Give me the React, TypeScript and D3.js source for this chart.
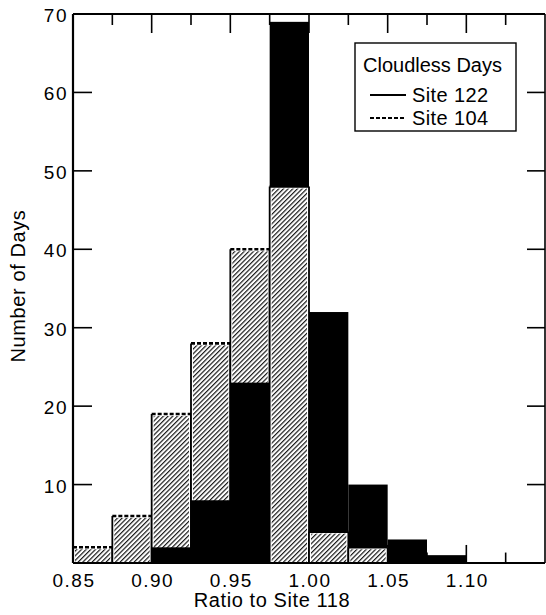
import { useRef, useEffect } from 'react'
import * as d3 from 'd3'

// histogram bins (lower edge), width 0.025
const binStarts = [0.85, 0.875, 0.9, 0.925, 0.95, 0.975, 1.0, 1.025, 1.05, 1.075]
const site122 = [0, 0, 2, 8, 23, 69, 32, 10, 3, 1]
const site104 = [2, 6, 19, 28, 40, 48, 4, 2, 0, 0]
const xTickLabels = ['0.85', '0.90', '0.95', '1.00', '1.05', '1.10']
const yTicks = [10, 20, 30, 40, 50, 60, 70]
const legendItems = ['Site 122', 'Site 104']

const App = () => {
  const chartRef = useRef<SVGSVGElement>(null)

  useEffect(() => {
    drawChart()
  }, [])

  const drawChart = () => {
    const svg = d3.select(chartRef.current)
    svg.selectAll('*').remove()
    const font = '"Liberation Sans", Arial, Helvetica, sans-serif'
    const binW = 0.025

    const x = d3.scaleLinear().domain([0.85, 1.15]).range([73, 545])
    const y = d3.scaleLinear().domain([0, 70]).range([563, 14])

    const defs = svg.append('defs')
    const pat = defs.append('pattern')
      .attr('id', 'hatch')
      .attr('patternUnits', 'userSpaceOnUse')
      .attr('width', 3.3)
      .attr('height', 10)
      .attr('patternTransform', 'rotate(45)')
    pat.append('rect').attr('width', 3.3).attr('height', 10).attr('fill', 'white')
    pat.append('rect').attr('width', 1.2).attr('height', 10).attr('fill', '#1a1a1a')

    // ticks on all four sides (drawn under the bars)
    const ticks = svg.append('g').attr('stroke', '#000')
    const xt = d3.range(1, 12).map((i) => 0.85 + i * binW)
    xt.forEach((v, i) => {
      const len = i % 2 === 1 ? 19 : 11
      ticks.append('line').attr('x1', x(v)).attr('x2', x(v)).attr('y1', y(70)).attr('y2', y(70) + len).attr('stroke-width', 1.6)
      ticks.append('line').attr('x1', x(v)).attr('x2', x(v)).attr('y1', y(0)).attr('y2', y(0) - len * 0.95).attr('stroke-width', 1.6)
    })
    yTicks.slice(0, -1).forEach((v) => {
      ticks.append('line').attr('x1', x(0.85)).attr('x2', x(0.85) + 19).attr('y1', y(v)).attr('y2', y(v)).attr('stroke-width', 1.6)
      ticks.append('line').attr('x1', x(1.15)).attr('x2', x(1.15) - 18).attr('y1', y(v)).attr('y2', y(v)).attr('stroke-width', 1.6)
    })

    // bars: larger one behind, smaller one in front
    const bars = svg.append('g')
    const drawBlack = (i: number) => {
      if (site122[i] <= 0) return
      const x0 = x(binStarts[i])
      const x1 = x(binStarts[i] + binW)
      bars.append('rect')
        .attr('x', x0).attr('y', y(site122[i]))
        .attr('width', x1 - x0).attr('height', y(0) - y(site122[i]))
        .attr('fill', '#000')
    }
    const drawHatch = (i: number) => {
      if (site104[i] <= 0) return
      const x0 = x(binStarts[i])
      const x1 = x(binStarts[i] + binW)
      const top = y(site104[i])
      bars.append('rect')
        .attr('x', x0).attr('y', top)
        .attr('width', x1 - x0).attr('height', y(0) - top)
        .attr('fill', 'white')
      bars.append('rect')
        .attr('x', x0 + 2).attr('y', top + 2)
        .attr('width', x1 - x0 - 4).attr('height', y(0) - top - 2)
        .attr('fill', 'url(#hatch)')
      bars.append('line')
        .attr('x1', x0).attr('x2', x0).attr('y1', top).attr('y2', y(0))
        .attr('stroke', '#000').attr('stroke-width', 1.8)
      bars.append('line')
        .attr('x1', x1).attr('x2', x1).attr('y1', top).attr('y2', y(0))
        .attr('stroke', '#000').attr('stroke-width', 1.8)
      bars.append('line')
        .attr('x1', x0).attr('x2', x1).attr('y1', top).attr('y2', top)
        .attr('stroke', '#000').attr('stroke-width', 2.6)
        .attr('stroke-dasharray', site104[i] > site122[i] ? '4,2' : null)
    }
    binStarts.forEach((_, i) => {
      if (site122[i] >= site104[i]) {
        drawBlack(i)
        drawHatch(i)
      } else {
        drawHatch(i)
        drawBlack(i)
      }
    })

    // frame
    const frame = svg.append('g').attr('stroke', '#000').attr('fill', 'none')
    frame.append('line').attr('x1', x(0.85)).attr('x2', x(0.85)).attr('y1', y(70)).attr('y2', y(0)).attr('stroke-width', 2.2)
    frame.append('line').attr('x1', x(0.85)).attr('x2', x(1.15)).attr('y1', y(0)).attr('y2', y(0)).attr('stroke-width', 2.2)
    frame.append('line').attr('x1', x(0.85)).attr('x2', x(1.15)).attr('y1', y(70)).attr('y2', y(70)).attr('stroke-width', 2)
    frame.append('line').attr('x1', x(1.15)).attr('x2', x(1.15)).attr('y1', y(70)).attr('y2', y(0)).attr('stroke-width', 1.6)

    // tick labels
    svg.append('g')
      .selectAll('text')
      .data(xTickLabels)
      .enter().append('text')
      .attr('x', (d) => x(+d) + 1)
      .attr('y', 587)
      .attr('text-anchor', 'middle')
      .attr('font-family', font)
      .attr('font-size', 19)
      .attr('letter-spacing', 1.5)
      .text((d) => d)

    svg.append('g')
      .selectAll('text')
      .data(yTicks)
      .enter().append('text')
      .attr('x', 68)
      .attr('y', (d) => y(d) + 8)
      .attr('text-anchor', 'end')
      .attr('font-family', font)
      .attr('font-size', 19)
      .attr('letter-spacing', 1.5)
      .text((d) => d)

    // axis titles
    svg.append('text')
      .attr('x', 272).attr('y', 607)
      .attr('text-anchor', 'middle')
      .attr('font-family', font).attr('font-size', 20)
      .attr('letter-spacing', 0.6)
      .text('Ratio to Site 118')

    svg.append('text')
      .attr('transform', 'translate(25,286) rotate(-90)')
      .attr('text-anchor', 'middle')
      .attr('font-family', font).attr('font-size', 20)
      .attr('letter-spacing', 0.6)
      .text('Number of Days')

    // legend
    const lg = svg.append('g')
    lg.append('rect')
      .attr('x', 355).attr('y', 43).attr('width', 161).attr('height', 88)
      .attr('fill', 'white').attr('stroke', '#000').attr('stroke-width', 1.4)
    lg.append('text')
      .attr('x', 363).attr('y', 72)
      .attr('font-family', font).attr('font-size', 20)
      .text('Cloudless Days')
    legendItems.forEach((name, i) => {
      const yy = 102 + i * 23
      lg.append('line')
        .attr('x1', 370).attr('x2', 406).attr('y1', yy - 7).attr('y2', yy - 7)
        .attr('stroke', '#000').attr('stroke-width', 2)
        .attr('stroke-dasharray', i === 1 ? '4,2' : null)
      lg.append('text')
        .attr('x', 412).attr('y', yy)
        .attr('font-family', font).attr('font-size', 20)
        .attr('letter-spacing', 0.4)
        .text(name)
    })
  }

  return (
    <svg
      ref={chartRef}
      width={546}
      height={615}
      style={{ position: 'absolute', left: 0, top: 0, background: 'white' }}
    ></svg>
  )
}

export default App
